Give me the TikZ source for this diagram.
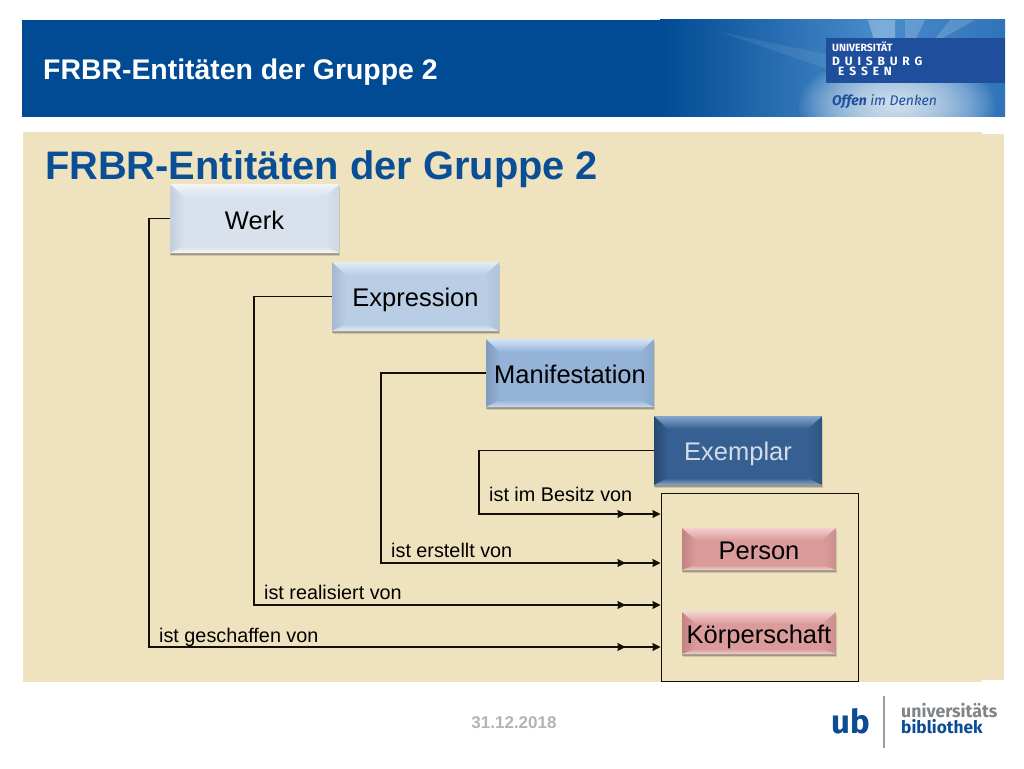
\documentclass[tikz,border=0pt]{standalone}
\usepackage{fontspec}
\setmainfont{Liberation Sans}
\newfontfamily\logofont{Fira Sans}
\usetikzlibrary{arrows.meta,shadows,decorations.markings,calc}
\definecolor{sand}{HTML}{EFE3BF}
\definecolor{unibluedark}{HTML}{004B93}
\definecolor{bandmid}{HTML}{4A8CCB}
\definecolor{bandend}{HTML}{2F74B8}
\definecolor{titleblue}{HTML}{0A4F96}
\definecolor{logoblue}{HTML}{1F4F9C}
\definecolor{ubblue}{HTML}{0B4C94}
\definecolor{ubgrey}{HTML}{808487}
\definecolor{datecol}{HTML}{B4B4B4}
\definecolor{wfill}{HTML}{D8E1EC}\definecolor{wtop}{HTML}{F2F5F9}\definecolor{wbot}{HTML}{F4F6F9}\definecolor{wside}{HTML}{C3CFDF}
\definecolor{efill}{HTML}{B9CDE5}\definecolor{etop}{HTML}{E2ECF6}\definecolor{ebot}{HTML}{E2EAF4}\definecolor{eside}{HTML}{A3B8D2}
\definecolor{mfill}{HTML}{95B3D7}\definecolor{mtop}{HTML}{D3E5F8}\definecolor{mbot}{HTML}{CADAEC}\definecolor{mside}{HTML}{7F9BBE}
\definecolor{xfill}{HTML}{366092}\definecolor{xtop}{HTML}{86A6CC}\definecolor{xbot}{HTML}{8AA6C7}\definecolor{xside}{HTML}{28496F}
\definecolor{pfill}{HTML}{DB9B9A}\definecolor{ptop}{HTML}{F3CFCE}\definecolor{pbot}{HTML}{F1D0D0}\definecolor{pside}{HTML}{C08483}
\definecolor{linecol}{HTML}{140E04}
\tikzset{
  px/.style={x=1pt,y=-1pt},
  bevelbox/.style n args={6}{draw=none,fill=#1,inner sep=0pt,
    path picture={
      \coordinate (nw) at (path picture bounding box.north west);
      \coordinate (ne) at (path picture bounding box.north east);
      \coordinate (sw) at (path picture bounding box.south west);
      \coordinate (se) at (path picture bounding box.south east);
      \coordinate (inw) at ($(nw)+(14pt,-#5)$);
      \coordinate (ine) at ($(ne)+(-14pt,-#5)$);
      \coordinate (isw) at ($(sw)+(14pt,#6)$);
      \coordinate (ise) at ($(se)+(-14pt,#6)$);
      \shade[left color=#4,right color=#1] (nw)--(inw)--(isw)--(sw)--cycle;
      \shade[left color=#1,right color=#4!50!#1] (ne)--(ine)--(ise)--(se)--cycle;
      \shade[top color=#2,bottom color=#1] (nw)--(ne)--(ine)--(inw)--cycle;
      \shade[top color=#1,bottom color=#3] (sw)--(se)--(ise)--(isw)--cycle;
    },
    drop shadow={shadow xshift=0.5pt,shadow yshift=-3pt,opacity=.18,fill=black!80},
    drop shadow={shadow xshift=0.3pt,shadow yshift=-1.5pt,opacity=.3,fill=black!80}},
  wbox/.style={bevelbox={wfill}{wtop}{wbot}{wside}{13pt}{7pt},minimum width=169pt,minimum height=69pt},
  ebox/.style={bevelbox={efill}{etop}{ebot}{eside}{13pt}{7pt},minimum width=167pt,minimum height=69pt},
  mbox/.style={bevelbox={mfill}{mtop}{mbot}{mside}{13pt}{7pt},minimum width=168pt,minimum height=68pt},
  xbox/.style={bevelbox={xfill}{xtop}{xbot}{xside}{13pt}{7pt},minimum width=168pt,minimum height=69pt},
  pbox/.style={bevelbox={pfill}{ptop}{pbot}{pside}{12pt}{5pt},minimum width=154pt,minimum height=42pt},
  conn/.style={draw=linecol,line width=1.1pt,-{Stealth[length=8pt,width=8pt,inset=0.5pt]},
    postaction={decorate},
    decoration={markings,mark=at position -35pt with {\arrow{Stealth[length=8pt,width=8pt,inset=0.5pt]}}}},
  lab/.style={anchor=base west,inner sep=0pt,font=\fontsize{19.8}{19.8}\selectfont,text=black},
  boxtext/.style={font=\fontsize{25.5}{25.5}\selectfont,text=black,text height=20pt,text depth=0pt},
  logotext/.style={anchor=base west,inner sep=0pt},
}
\begin{document}
\begin{tikzpicture}[px]
\useasboundingbox (0,0) rectangle (1024,768);
\fill[white] (0,0) rectangle (1024,768);
% header band
\begin{scope}
\clip (22,20) rectangle (1005,116.5);
\fill[unibluedark] (22,20) rectangle (1005,116.5);
\shade[left color=unibluedark,right color=bandmid] (660,20) rectangle (880,116.5);
\shade[left color=bandmid,right color=bandend] (880,20) rectangle (1005.5,116.5);
\foreach \r in {1,...,28}{
  \fill[white,opacity=.05] (897,105) ellipse ({3.5*\r pt} and {1.8*\r pt});
}
\fill[white,opacity=.28] (868,20) -- (895,20) -- (895,60) -- (880,60) -- cycle;
\fill[white,opacity=.18] (905,20) -- (925,20) -- (905,60) -- cycle;
\fill[white,opacity=.16] (950,20) -- (975,20) -- (930,45) -- cycle;
\fill[white,opacity=.08] (720,32) -- (830,55) -- (830,70) -- cycle;
\end{scope}
\fill[logoblue] (826,38) rectangle (1005,83);
\node[logotext,text=white,font=\fontsize{28.4}{28.4}\selectfont\bfseries] (hdr) at (43,79) {FRBR-Entitäten der Gruppe 2};
\node[logotext,text=white,font=\logofont\fontsize{10.5}{10.5}\selectfont\bfseries] (l1) at (832,52) {UNIVERSITÄT};
\node[logotext,text=white,font=\logofont\fontsize{12}{12}\selectfont\bfseries] (l2) at (832,65) {D\ \,U\ \,I\ \,S\ \,B\ \,U\ \,R\ \,G};
\node[logotext,text=white,font=\logofont\fontsize{12}{12}\selectfont\bfseries] (l3) at (838,75) {E\ \,S\ \,S\ \,E\ \,N};
\node[logotext,text=logoblue,font=\logofont\fontsize{14}{14}\selectfont\itshape] (l4) at (832,105) {\textbf{Offen} im Denken};
% panel
\fill[sand] (23,132) rectangle (982,682);
\fill[sand] (23,134) rectangle (1004,680);
\node[logotext,text=titleblue,font=\fontsize{39.8}{39.8}\selectfont\bfseries] (title) at (45,179) {FRBR-Entitäten der Gruppe 2};
% group box
\node[draw=linecol,line width=1pt,minimum width=197pt,minimum height=188pt,inner sep=0pt] (grp) at (759.5,587) {};
% boxes
\node[wbox,boxtext,text height=21pt] (werk) at (254.5,218.5) {Werk};
\node[ebox,boxtext] (expr) at (415.5,296.5) {Expression};
\node[mbox,boxtext] (mani) at (570,373) {Manifestation};
\node[xbox,boxtext,text=white!78!xfill] (expl) at (738,450.5) {Exemplar};
\node[pbox,boxtext] (pers) at (759,549) {Person};
\node[pbox,boxtext] (korp) at (759,633) {Körperschaft};
% connector corners
\coordinate (c1) at (149,647);
\coordinate (c2) at (254,605);
\coordinate (c3) at (381,563);
\coordinate (c4) at (479,514);
\draw[conn] (werk.west) -| (c1) -- (grp.west |- c1);
\draw[conn] (expr.west) -| (c2) -- (grp.west |- c2);
\draw[conn] (mani.west) -| (c3) -- (grp.west |- c3);
\draw[conn] (expl.west) -| (c4) -- (grp.west |- c4);
% labels
\node[lab] (t1) at (159,642) {ist geschaffen von};
\node[lab] (t2) at (264,599) {ist realisiert von};
\node[lab] (t3) at (391,557) {ist erstellt von};
\node[lab] (t4) at (489,501) {ist im Besitz von};
% footer
\node[text=datecol,font=\fontsize{17}{17}\selectfont\bfseries,inner sep=0pt] (date) at (514,723) {31.12.2018};
\node[logotext,text=ubblue,font=\logofont\fontsize{33}{33}\selectfont\bfseries] (ub) at (831,733) {ub};
\fill[ubgrey!80] (882.5,696) rectangle (885,748);
\node[logotext,text=ubgrey,font=\logofont\fontsize{17.7}{17.7}\selectfont\bfseries] (u1) at (901,717) {universitäts};
\node[logotext,text=ubblue,font=\logofont\fontsize{17.3}{17.3}\selectfont\bfseries] (u2) at (901,733) {bibliothek};
\end{tikzpicture}
\end{document}
